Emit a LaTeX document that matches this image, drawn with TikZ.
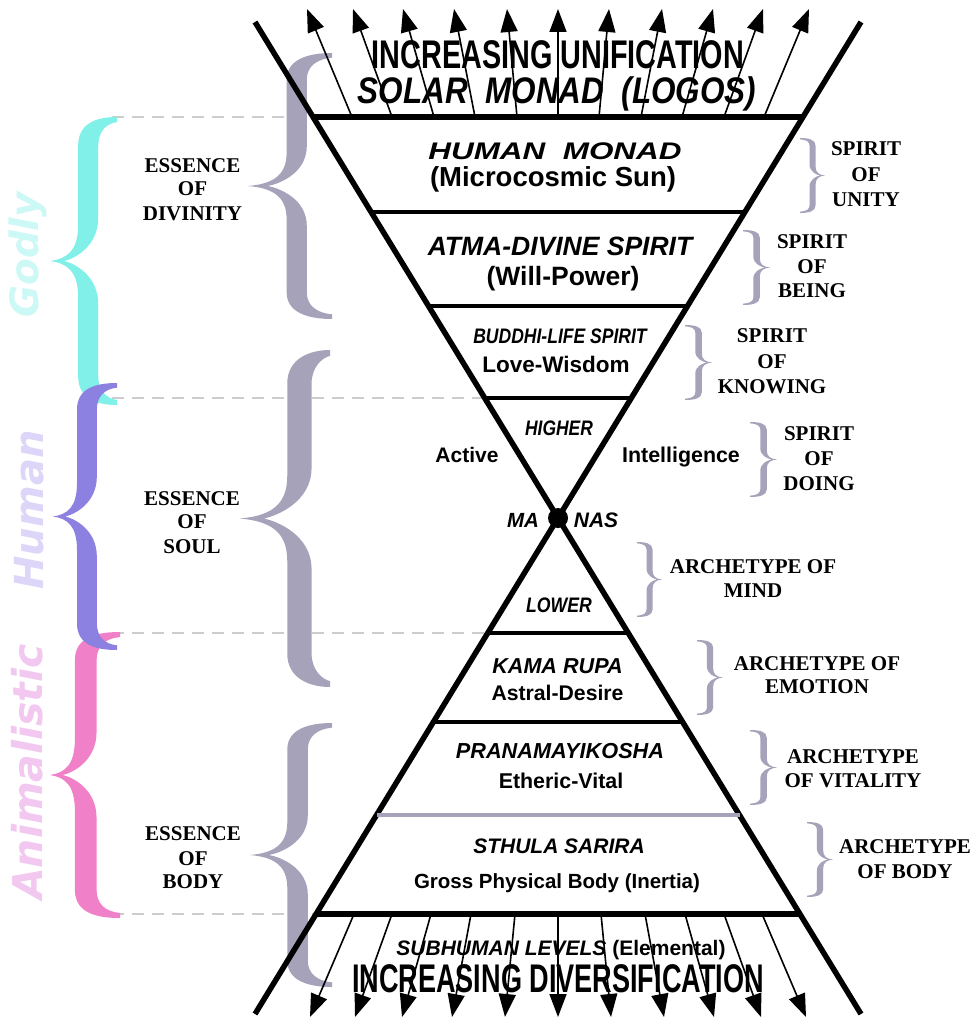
\documentclass[tikz,border=0pt]{standalone}
\usepackage{fontspec}
\usepackage{graphicx}
\setmainfont{Liberation Sans}
\newfontfamily\tms{Liberation Serif}
\newfontfamily\dv{DejaVu Sans}[BoldItalicFont={DejaVu Sans Bold Oblique}]
\usetikzlibrary{arrows.meta}
\definecolor{bgray}{RGB}{166,162,186}
\definecolor{dashgray}{RGB}{205,205,205}
\definecolor{bcyan}{RGB}{128,240,232}
\definecolor{bpurple}{RGB}{140,128,224}
\definecolor{bpink}{RGB}{240,128,200}
\definecolor{tcyan}{RGB}{204,248,246}
\definecolor{tpurple}{RGB}{222,214,248}
\definecolor{tpink}{RGB}{242,200,240}
\newcommand\fs[1]{\fontsize{#1}{#1}\selectfont}
% filled tapered brace: #1 colour, #2 tip x, #3 tip y, #4 end x, #5 half height, #6 spine fraction, #7 thickness fraction
\newcommand\brc[7]{%
 \pgfmathsetmacro\qL{#6-#7/2}%
 \pgfmathsetmacro\qR{#6+#7/2}%
 \pgfmathsetmacro\qC{(#6-#7/2)*0.5}%
 \pgfmathsetmacro\qH{#6+#7/2+0.12}%
 \pgfmathsetmacro\qK{#6-#7/2+0.25}%
 \pgfmathsetmacro\qM{(#6-#7/2)*0.6}%
 \pgfmathsetmacro\qN{(#6-#7/2)*0.5+0.15}%
 \fill[#1, shift={(#2,#3)}, xscale=#4-#2, yscale=#5]
 (0,0) .. controls (\qM,0.015) and (\qL,0.07) .. (\qL,0.25)
 -- (\qL,0.8) .. controls (\qL,0.95) and (\qK,1) .. (1,1)
 -- (1,0.965) .. controls (\qH,0.955) and (\qR,0.9) .. (\qR,0.8)
 -- (\qR,0.3) .. controls (\qR,0.1) and (\qN,0.015) .. (\qC,0)
 .. controls (\qN,-0.015) and (\qR,-0.1) .. (\qR,-0.3)
 -- (\qR,-0.8) .. controls (\qR,-0.9) and (\qH,-0.955) .. (1,-0.965)
 -- (1,-1) .. controls (\qK,-1) and (\qL,-0.95) .. (\qL,-0.8)
 -- (\qL,-0.25) .. controls (\qL,-0.07) and (\qM,-0.015) .. (0,0) -- cycle;
}
\begin{document}
\begin{tikzpicture}[x=1pt,y=-1pt,
 lbl/.style={inner sep=0pt, anchor=base, font=\bfseries},
 lbi/.style={inner sep=0pt, anchor=base, font=\bfseries\itshape},
 side/.style={inner sep=0pt, anchor=base, font=\tms\bfseries\fs{21}},
 vword/.style={inner sep=0pt, rotate=90, font=\dv\bfseries\itshape},
 xl/.style={line width=5.5pt},
 hl/.style={line width=4.5pt},
 arr/.style={line width=1.6pt, -{Triangle[length=23pt,width=17pt]}},
 dsh/.style={dashgray, line width=1.5pt, dash pattern=on 12pt off 8pt},
]
\fill[white] (0,0) rectangle (976,1019);
\useasboundingbox (0,0) rectangle (976,1019);

% key points
\coordinate (C) at (558,518);
\coordinate (TL) at (255,22);
\coordinate (TR) at (861,22);
\coordinate (BL) at (255,1014);
\coordinate (BR) at (861,1014);
\coordinate (h1l) at (313,117);   \coordinate (h1r) at (803,117);
\coordinate (h2l) at (371,212);   \coordinate (h2r) at (745,212);
\coordinate (h3l) at (428.5,306); \coordinate (h3r) at (687.5,306);
\coordinate (h4l) at (485,398);   \coordinate (h4r) at (631,398);
\coordinate (h5l) at (488,633);   \coordinate (h5r) at (628,633);
\coordinate (h6l) at (433,722);   \coordinate (h6r) at (683,722);
\coordinate (h7l) at (376.5,815); \coordinate (h7r) at (739.5,815);
\coordinate (h8l) at (316,914);   \coordinate (h8r) at (800,914);
\coordinate (d1) at (112,117);
\coordinate (d2) at (112,398);
\coordinate (d3) at (112,633);
\coordinate (d4) at (112,914);

% dashed guide lines
\draw[dsh] (d1) -- (h1l);
\draw[dsh] (d2) -- (h4l);
\draw[dsh] (d3) -- (h5l);
\draw[dsh] (d4) -- (h8l);

% coloured braces
\brc{bcyan}{50}{261}{117}{144}{0.57}{0.3}
\brc{bpink}{50}{775}{120}{143}{0.51}{0.31}
\brc{bpurple}{53}{516.5}{117}{133.5}{0.53}{0.31}

% vertical words
\node[vword, text=tcyan] (godly) at (28,255) {\fs{39}Godly};
\node[vword, text=tpurple] (human) at (29,510) {\fs{40}Human};
\node[vword, text=tpink] (anim) at (27,772) {\fs{41}Animalistic};

% big grey braces
\brc{bgray}{248}{186}{332}{133}{0.58}{0.24}
\brc{bgray}{240}{518.5}{330}{168.5}{0.66}{0.27}
\brc{bgray}{250}{855}{332}{132}{0.58}{0.25}

% small right braces
\brc{bgray}{825}{175.5}{800}{37.5}{0.5}{0.24}
\brc{bgray}{770}{267.5}{743}{37.5}{0.5}{0.24}
\brc{bgray}{712}{362.5}{685}{37.5}{0.5}{0.24}
\brc{bgray}{777}{459.5}{750}{37.5}{0.5}{0.24}
\brc{bgray}{662}{579.5}{637}{37.5}{0.5}{0.24}
\brc{bgray}{723}{677.5}{697}{37.5}{0.5}{0.24}
\brc{bgray}{777}{767.5}{750}{37.5}{0.5}{0.24}
\brc{bgray}{833}{859.5}{807}{37.5}{0.5}{0.24}

% arrows up
\foreach \b/\t [count=\i] in {-206/-251,-166/-205,-124/-155,-83/-104,-41/-51,0/0,41/51,83/104,124/155,166/205,206/251}{
  \coordinate (ua\i) at ({558+\b},117);
  \coordinate (ub\i) at ({558+\t},9);
  \draw[arr] (ua\i) -- (ub\i);
}
% arrows down
\foreach \b/\t [count=\i] in {-204/-248,-166/-203,-127/-156,-87/-106,-43/-53,0/0,43/53,87/106,127/156,166/203,204/248}{
  \coordinate (da\i) at ({558+\b},914);
  \coordinate (db\i) at ({558+\t},1017);
  \draw[arr] (da\i) -- (db\i);
}

% hourglass
\draw[xl] (TL) -- (BR);
\draw[xl] (TR) -- (BL);
\draw[line width=5.5pt] (h1l) -- (h1r);
\draw[hl] (h2l) -- (h2r);
\draw[hl] (h3l) -- (h3r);
\draw[hl] (h4l) -- (h4r);
\draw[hl] (h5l) -- (h5r);
\draw[hl] (h6l) -- (h6r);
\draw[line width=4pt, bgray] (h7l) -- (h7r);
\draw[line width=5.5pt] (h8l) -- (h8r);
\node[circle, fill=black, minimum size=20pt, inner sep=0pt] (dot) at (C) {};

% central texts
\node[lbl] (inc) at (558,69) {\fs{40}\scalebox{0.72}[1]{INCREASING UNIFICATION}};
\node[lbi] (solar) at (557,104) {\fs{37}\scalebox{0.85}[1]{SOLAR\ \ MONAD\ \ (LOGOS)}};
\node[lbi] (hmonad) at (555,160) {\fs{24}\scalebox{1.31}[1]{HUMAN\ \ MONAD}};
\node[lbl] (micro) at (553,186) {\fs{27.5}(Microcosmic Sun)};
\node[lbi] (atma) at (560,255) {\fs{26.5}ATMA-DIVINE SPIRIT};
\node[lbl] (will) at (563,285) {\fs{26.5}(Will-Power)};
\node[lbi] (buddhi) at (560,343) {\fs{21}\scalebox{0.835}[1]{BUDDHI-LIFE SPIRIT}};
\node[lbl] (love) at (556,372) {\fs{22.5}Love-Wisdom};
\node[lbi] (higher) at (559,435) {\fs{21}\scalebox{0.83}[1]{HIGHER}};
\node[lbl] (active) at (467,462) {\fs{21}Active};
\node[lbl] (intel) at (681,462) {\fs{21.4}Intelligence};
\node[lbi] (ma) at (523,527) {\fs{20.5}MA};
\node[lbi] (nas) at (596,527) {\fs{21}NAS};
\node[lbi] (lower) at (559,612) {\fs{21}\scalebox{0.84}[1]{LOWER}};
\node[lbi] (kama) at (557.5,673) {\fs{21.6}KAMA RUPA};
\node[lbl] (astral) at (557.5,700) {\fs{21.2}Astral-Desire};
\node[lbi] (prana) at (560,758) {\fs{21.7}PRANAMAYIKOSHA};
\node[lbl] (ether) at (561,788) {\fs{21.4}Etheric-Vital};
\node[lbi] (sthula) at (559,853) {\fs{21}STHULA SARIRA};
\node[lbl] (gross) at (557,888) {\fs{20.5}Gross Physical Body (Inertia)};
\node[lbl] (subh) at (561,955) {\fs{21}{\itshape SUBHUMAN LEVELS} (Elemental)};
\node[lbl] (div) at (558,992) {\fs{40}\scalebox{0.677}[1]{INCREASING DIVERSIFICATION}};

% left labels
\node[side] (ed1) at (192.5,172) {ESSENCE};
\node[side] (ed2) at (192.5,195) {OF};
\node[side] (ed3) at (192.5,220) {DIVINITY};
\node[side] (es1) at (192,505) {ESSENCE};
\node[side] (es2) at (192,528) {OF};
\node[side] (es3) at (192,553) {SOUL};
\node[side] (eb1) at (193,840) {ESSENCE};
\node[side] (eb2) at (193,865) {OF};
\node[side] (eb3) at (193,888) {BODY};

% right labels
\node[side] (su1) at (866,156) {SPIRIT};
\node[side] (su2) at (866,182) {OF};
\node[side] (su3) at (866,206) {UNITY};
\node[side] (sb1) at (812,248) {SPIRIT};
\node[side] (sb2) at (812,273) {OF};
\node[side] (sb3) at (812,297) {BEING};
\node[side] (sk1) at (772,342) {SPIRIT};
\node[side] (sk2) at (772,368) {OF};
\node[side] (sk3) at (772,393) {KNOWING};
\node[side] (sd1) at (819,440) {SPIRIT};
\node[side] (sd2) at (819,465) {OF};
\node[side] (sd3) at (819,490) {DOING};
\node[side] (am1) at (753,573) {ARCHETYPE OF};
\node[side] (am2) at (753,597) {MIND};
\node[side] (ae1) at (817,670) {ARCHETYPE OF};
\node[side] (ae2) at (817,693) {EMOTION};
\node[side] (av1) at (853,763) {ARCHETYPE};
\node[side] (av2) at (853,787) {OF VITALITY};
\node[side] (ab1) at (905,853) {ARCHETYPE};
\node[side] (ab2) at (905,878) {OF BODY};
\end{tikzpicture}
\end{document}
